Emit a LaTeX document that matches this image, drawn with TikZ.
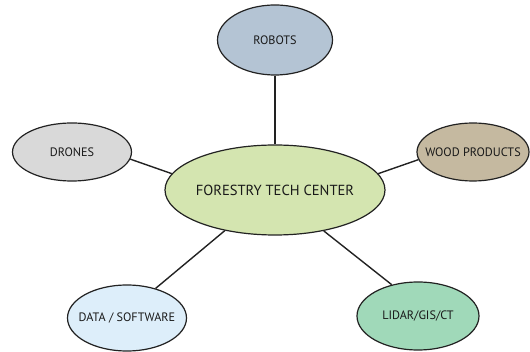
\documentclass[tikz,border=0pt]{standalone}
\usepackage{fontspec}
\setmainfont{PT Sans}
\usetikzlibrary{shapes.geometric}
\definecolor{robotc}{HTML}{B4C4D4}
\definecolor{dronec}{HTML}{D9D9D9}
\definecolor{centerc}{HTML}{D4E5B0}
\definecolor{woodc}{HTML}{C5B9A0}
\definecolor{datac}{HTML}{DDEEFA}
\definecolor{lidarc}{HTML}{A0D9B9}
\definecolor{edgec}{HTML}{222222}
\newcommand{\lbl}[1]{\makebox[0pt]{#1}}
\tikzset{
  bubble/.style={ellipse, draw=edgec, line width=1.2pt, inner sep=0pt, font=\fontsize{12.2}{14}\selectfont, text=black!90},
  link/.style={draw=edgec, line width=1.4pt}
}
\begin{document}
\begin{tikzpicture}[x=1pt,y=-1pt]
\useasboundingbox (0,0) rectangle (530,352);
\node[bubble, fill=centerc, minimum width=220pt, minimum height=90pt, font=\fontsize{14.6}{16}\selectfont] (c) at (275,190) {\lbl{FORESTRY TECH CENTER}};
\node[bubble, fill=robotc, minimum width=115pt, minimum height=70pt] (r) at (275,40) {\lbl{ROBOTS}};
\node[bubble, fill=dronec, minimum width=119pt, minimum height=58pt] (d) at (72,152) {\lbl{DRONES}};
\node[bubble, fill=woodc, minimum width=112pt, minimum height=58pt] (w) at (473,152) {\lbl{WOOD PRODUCTS}};
\node[bubble, fill=datac, minimum width=119pt, minimum height=66pt] (s) at (127,318) {\lbl{DATA / SOFTWARE}};
\node[bubble, fill=lidarc, minimum width=122pt, minimum height=68pt] (l) at (418,316) {\lbl{LIDAR/GIS/CT}};
\draw[link] (r.south) -- (c.north);
\draw[link] (d.-7) -- (c.171);
\draw[link] (w.188) -- (c.9.4);
\draw[link] (s.46) -- (c.219);
\draw[link] (l.130) -- (c.320.5);
\end{tikzpicture}
\end{document}
